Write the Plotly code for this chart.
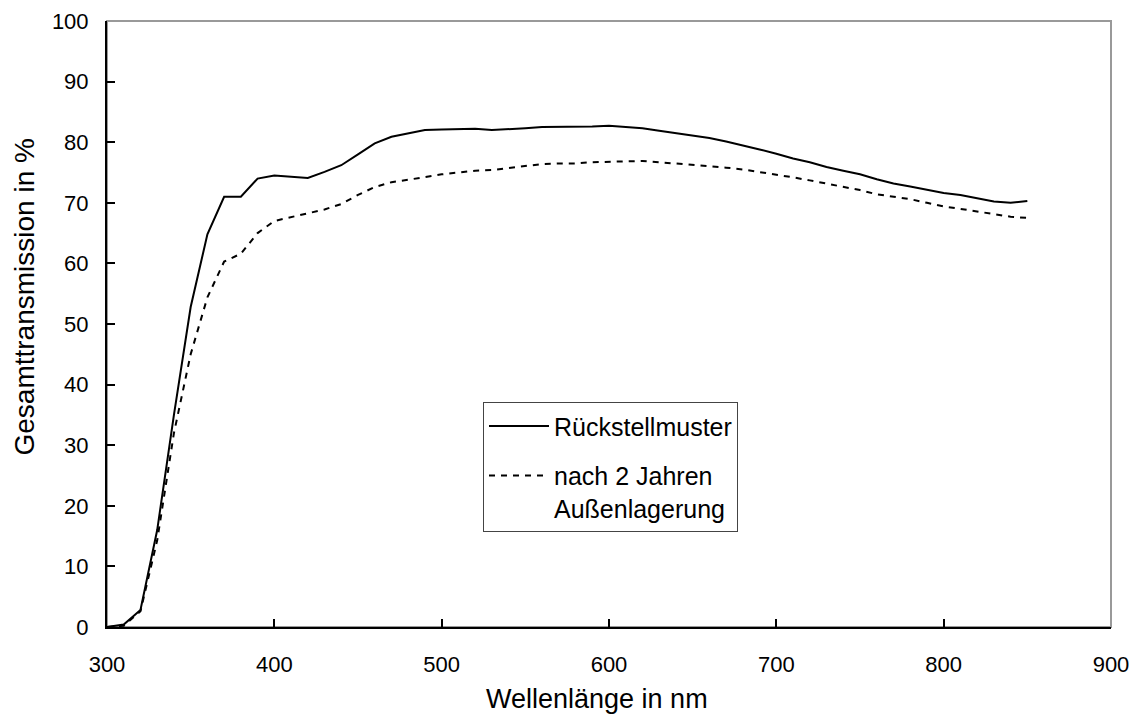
import plotly.graph_objects as go

wavelength = [300, 310, 320, 330, 340, 350, 360, 370, 380, 390,
              400, 410, 420, 430, 440, 450, 460, 470, 480, 490,
              500, 510, 520, 530, 540, 550, 560, 570, 580, 590,
              600, 610, 620, 630, 640, 650, 660, 670, 680, 690,
              700, 710, 720, 730, 740, 750, 760, 770, 780, 790,
              800, 810, 820, 830, 840, 850]

rueckstell = [0.0, 0.4, 2.8, 16.0, 35.0, 52.8, 64.8, 71.0, 71.0, 74.0,
              74.5, 74.3, 74.1, 75.1, 76.2, 78.0, 79.8, 80.9, 81.5, 82.0,
              82.1, 82.2, 82.2, 82.0, 82.1, 82.3, 82.5, 82.5, 82.5, 82.6,
              82.7, 82.5, 82.3, 81.9, 81.5, 81.2, 80.7, 80.1, 79.5, 78.8,
              78.1, 77.3, 76.7, 75.9, 75.3, 74.7, 73.9, 73.2, 72.7, 72.1,
              71.6, 71.3, 70.8, 70.2, 70.0, 70.3]

aussen = [0.0, 0.2, 2.6, 14.3, 32.0, 45.0, 54.4, 60.3, 61.6, 65.0,
          67.0, 67.6, 68.2, 68.9, 69.8, 71.3, 72.6, 73.4, 73.8, 74.3,
          74.7, 75.0, 75.3, 75.4, 75.7, 76.1, 76.4, 76.5, 76.5, 76.7,
          76.8, 76.9, 76.9, 76.7, 76.5, 76.3, 76.1, 75.8, 75.5, 75.1,
          74.7, 74.2, 73.7, 73.2, 72.6, 72.1, 71.4, 71.0, 70.6, 70.0,
          69.4, 69.0, 68.6, 68.2, 67.7, 67.5]

x_ticks = [300, 400, 500, 600, 700, 800, 900]
y_ticks = [0, 10, 20, 30, 40, 50, 60, 70, 80, 90, 100]

x_title = "Wellenlänge in nm"
y_title = "Gesamttransmission in %"

FONT = "Liberation Sans, Arial, sans-serif"

fig = go.Figure()
fig.add_trace(go.Scatter(
    x=wavelength, y=rueckstell, mode="lines", name="Rückstellmuster",
    legendgroup="a", line=dict(color="black", width=2)))
fig.add_trace(go.Scatter(
    x=wavelength, y=aussen, mode="lines", name="nach 2 Jahren<br>Außenlagerung",
    legendgroup="b", line=dict(color="black", width=2, dash="6px,6px")))

# gray frame (top/right)
fig.add_shape(type="rect", xref="paper", yref="paper", x0=0, y0=0, x1=1, y1=1,
              line=dict(color="#999999", width=2), layer="below")

# axis titles (placed like the reference)
fig.add_annotation(text=x_title, xref="paper", yref="paper", x=0.488, y=0,
                   yshift=-72, xanchor="center", yanchor="middle", showarrow=False,
                   font=dict(size=27, family=FONT, color="black"))
fig.add_annotation(text=y_title, xref="paper", yref="paper", x=0, y=0.5437,
                   xshift=-82, xanchor="center", yanchor="middle", showarrow=False,
                   textangle=-90, font=dict(size=28, family=FONT, color="black"))

# page body has an 8px margin -> shrink figure by 8px and shift margins
fig.update_layout(
    width=1129, height=709,
    margin=dict(l=99, r=26, t=13, b=90),
    paper_bgcolor="white", plot_bgcolor="white",
    font=dict(family=FONT, size=22, color="black"),
    showlegend=True,
    legend=dict(x=0.3745, y=0.371, xanchor="left", yanchor="top",
                bordercolor="#444444", borderwidth=1, bgcolor="white",
                traceorder="grouped", tracegroupgap=14, valign="top",
                itemwidth=60, font=dict(size=25, family=FONT)),
    xaxis=dict(range=[300, 900], tickvals=x_ticks, ticks="inside", ticklen=8,
               tickwidth=2, tickcolor="black", showline=True, linecolor="black",
               linewidth=2, showgrid=False, zeroline=False, automargin=False,
               ticklabelstandoff=17, tickfont=dict(size=22)),
    yaxis=dict(range=[0, 100], tickvals=y_ticks, ticks="inside", ticklen=8,
               tickwidth=2, tickcolor="black", showline=True, linecolor="black",
               linewidth=2, showgrid=False, zeroline=False, automargin=False,
               ticklabelstandoff=12, tickfont=dict(size=22)),
)

fig.write_html("out.html")
